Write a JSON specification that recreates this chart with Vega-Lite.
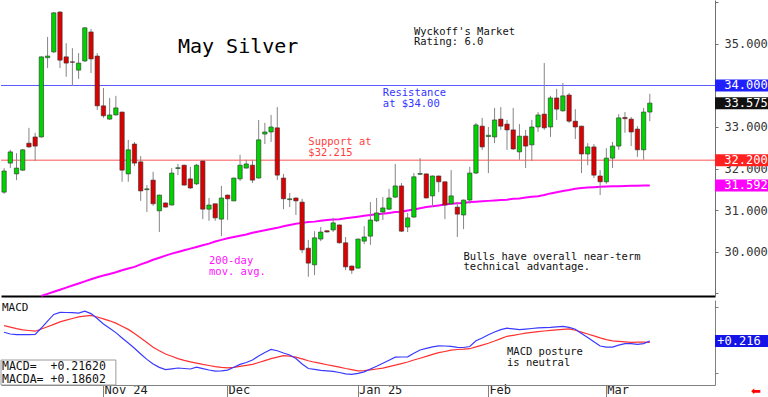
{
"$schema": "https://vega.github.io/schema/vega-lite/v6.json",
"padding": 0,
"background": "white",
"spacing": 0,
"config": {"view": {"stroke": null}, "font": "DejaVu Sans Mono", "concat": {"spacing": 0}},
"resolve": {"scale": {"x": "independent", "y": "independent", "color": "independent"}},
"datasets": {
"bars": [
{"d":"2024-10-10","o":31.43,"h":32.01,"l":31.39,"c":31.94,"ma":null,"m":0.414,"s":0.564},
{"d":"2024-10-11","o":32.13,"h":32.45,"l":32.01,"c":32.40,"ma":null,"m":0.375,"s":0.532},
{"d":"2024-10-14","o":31.87,"h":32.37,"l":31.72,"c":32.01,"ma":null,"m":0.359,"s":0.498},
{"d":"2024-10-15","o":31.96,"h":32.47,"l":31.94,"c":32.45,"ma":null,"m":0.359,"s":0.468},
{"d":"2024-10-16","o":32.61,"h":32.98,"l":32.50,"c":32.52,"ma":null,"m":0.359,"s":0.455},
{"d":"2024-10-17","o":32.76,"h":32.86,"l":32.18,"c":32.54,"ma":null,"m":0.364,"s":0.439},
{"d":"2024-10-18","o":32.76,"h":34.70,"l":32.74,"c":34.69,"ma":28.93,"m":0.511,"s":0.489},
{"d":"2024-10-21","o":34.67,"h":35.17,"l":34.42,"c":34.71,"ma":28.98,"m":0.670,"s":0.541},
{"d":"2024-10-22","o":34.81,"h":35.77,"l":34.78,"c":35.75,"ma":29.03,"m":0.820,"s":0.595},
{"d":"2024-10-23","o":35.77,"h":35.79,"l":34.42,"c":34.61,"ma":29.08,"m":0.868,"s":0.652},
{"d":"2024-10-24","o":34.69,"h":35.02,"l":34.21,"c":34.54,"ma":29.13,"m":0.864,"s":0.691},
{"d":"2024-10-25","o":34.57,"h":34.90,"l":33.99,"c":34.56,"ma":29.18,"m":0.859,"s":0.727},
{"d":"2024-10-28","o":34.37,"h":34.78,"l":34.16,"c":34.54,"ma":29.23,"m":0.852,"s":0.764},
{"d":"2024-10-29","o":34.59,"h":35.40,"l":34.57,"c":35.39,"ma":29.28,"m":0.895,"s":0.782},
{"d":"2024-10-30","o":35.29,"h":35.36,"l":34.30,"c":34.64,"ma":29.33,"m":0.839,"s":0.800},
{"d":"2024-10-31","o":34.71,"h":34.78,"l":33.41,"c":33.51,"ma":29.38,"m":0.727,"s":0.761},
{"d":"2024-11-01","o":33.51,"h":33.94,"l":33.22,"c":33.27,"ma":29.42,"m":0.602,"s":0.720},
{"d":"2024-11-04","o":33.19,"h":33.70,"l":33.17,"c":33.29,"ma":29.46,"m":0.507,"s":0.675},
{"d":"2024-11-05","o":33.29,"h":33.75,"l":33.28,"c":33.46,"ma":29.50,"m":0.407,"s":0.623},
{"d":"2024-11-06","o":33.36,"h":33.37,"l":31.68,"c":31.96,"ma":29.55,"m":0.286,"s":0.552},
{"d":"2024-11-07","o":31.87,"h":32.69,"l":31.68,"c":32.45,"ma":29.59,"m":0.170,"s":0.480},
{"d":"2024-11-08","o":32.59,"h":32.64,"l":32.06,"c":32.13,"ma":29.63,"m":0.050,"s":0.384},
{"d":"2024-11-11","o":32.16,"h":32.30,"l":31.22,"c":31.46,"ma":29.69,"m":-0.080,"s":0.286},
{"d":"2024-11-12","o":31.49,"h":31.60,"l":30.95,"c":31.51,"ma":29.74,"m":-0.202,"s":0.182},
{"d":"2024-11-13","o":31.72,"h":31.92,"l":31.10,"c":31.15,"ma":29.80,"m":-0.309,"s":0.075},
{"d":"2024-11-14","o":30.98,"h":31.37,"l":30.47,"c":31.36,"ma":29.85,"m":-0.384,"s":-0.007},
{"d":"2024-11-15","o":31.17,"h":31.18,"l":31.06,"c":31.07,"ma":29.90,"m":-0.434,"s":-0.080},
{"d":"2024-11-18","o":31.12,"h":32.01,"l":31.11,"c":31.89,"ma":29.95,"m":-0.416,"s":-0.130},
{"d":"2024-11-19","o":32.00,"h":32.11,"l":31.84,"c":32.02,"ma":29.99,"m":-0.398,"s":-0.184},
{"d":"2024-11-20","o":32.08,"h":32.09,"l":31.59,"c":31.60,"ma":30.03,"m":-0.409,"s":-0.225},
{"d":"2024-11-21","o":31.75,"h":32.04,"l":31.51,"c":31.53,"ma":30.07,"m":-0.420,"s":-0.257},
{"d":"2024-11-22","o":31.63,"h":32.11,"l":31.60,"c":32.08,"ma":30.11,"m":-0.380,"s":-0.286},
{"d":"2024-11-25","o":32.18,"h":32.19,"l":30.78,"c":31.02,"ma":30.15,"m":-0.411,"s":-0.316},
{"d":"2024-11-26","o":31.02,"h":31.29,"l":30.74,"c":31.12,"ma":30.19,"m":-0.443,"s":-0.341},
{"d":"2024-11-27","o":31.15,"h":31.15,"l":30.74,"c":30.81,"ma":30.24,"m":-0.470,"s":-0.366},
{"d":"2024-11-29","o":30.78,"h":31.58,"l":30.37,"c":31.29,"ma":30.28,"m":-0.461,"s":-0.382},
{"d":"2024-12-02","o":31.36,"h":31.37,"l":30.76,"c":31.27,"ma":30.32,"m":-0.445,"s":-0.393},
{"d":"2024-12-03","o":31.22,"h":31.78,"l":31.21,"c":31.77,"ma":30.35,"m":-0.382,"s":-0.384},
{"d":"2024-12-04","o":31.75,"h":32.33,"l":31.70,"c":32.08,"ma":30.38,"m":-0.316,"s":-0.361},
{"d":"2024-12-05","o":32.01,"h":32.21,"l":32.00,"c":32.11,"ma":30.41,"m":-0.273,"s":-0.339},
{"d":"2024-12-06","o":32.08,"h":32.21,"l":31.65,"c":31.72,"ma":30.45,"m":-0.216,"s":-0.314},
{"d":"2024-12-09","o":31.77,"h":33.17,"l":31.76,"c":32.69,"ma":30.48,"m":-0.123,"s":-0.273},
{"d":"2024-12-10","o":32.83,"h":33.10,"l":32.59,"c":32.88,"ma":30.51,"m":-0.045,"s":-0.230},
{"d":"2024-12-11","o":32.88,"h":33.29,"l":32.64,"c":33.00,"ma":30.54,"m":0.023,"s":-0.186},
{"d":"2024-12-12","o":32.98,"h":33.48,"l":31.72,"c":31.84,"ma":30.57,"m":-0.005,"s":-0.152},
{"d":"2024-12-13","o":31.77,"h":31.87,"l":31.02,"c":31.27,"ma":30.61,"m":-0.057,"s":-0.118},
{"d":"2024-12-16","o":31.25,"h":31.41,"l":31.07,"c":31.27,"ma":30.64,"m":-0.102,"s":-0.127},
{"d":"2024-12-17","o":31.29,"h":31.30,"l":30.88,"c":31.22,"ma":30.67,"m":-0.182,"s":-0.152},
{"d":"2024-12-18","o":31.19,"h":31.27,"l":29.96,"c":30.04,"ma":30.69,"m":-0.307,"s":-0.189},
{"d":"2024-12-19","o":30.08,"h":30.28,"l":29.39,"c":29.72,"ma":30.71,"m":-0.409,"s":-0.232},
{"d":"2024-12-20","o":29.68,"h":30.49,"l":29.43,"c":30.33,"ma":30.72,"m":-0.427,"s":-0.266},
{"d":"2024-12-23","o":30.30,"h":30.59,"l":30.25,"c":30.47,"ma":30.74,"m":-0.450,"s":-0.293},
{"d":"2024-12-24","o":30.50,"h":30.51,"l":30.46,"c":30.47,"ma":30.76,"m":-0.461,"s":-0.323},
{"d":"2024-12-26","o":30.52,"h":30.81,"l":30.47,"c":30.69,"ma":30.77,"m":-0.473,"s":-0.350},
{"d":"2024-12-27","o":30.64,"h":30.65,"l":30.19,"c":30.21,"ma":30.78,"m":-0.500,"s":-0.377},
{"d":"2024-12-30","o":30.21,"h":30.35,"l":29.55,"c":29.63,"ma":30.80,"m":-0.530,"s":-0.409},
{"d":"2024-12-31","o":29.65,"h":29.66,"l":29.46,"c":29.55,"ma":30.82,"m":-0.541,"s":-0.434},
{"d":"2025-01-02","o":29.60,"h":30.31,"l":29.59,"c":30.30,"ma":30.84,"m":-0.518,"s":-0.461},
{"d":"2025-01-03","o":30.25,"h":30.61,"l":30.18,"c":30.35,"ma":30.86,"m":-0.486,"s":-0.459},
{"d":"2025-01-06","o":30.37,"h":31.19,"l":30.16,"c":30.76,"ma":30.88,"m":-0.420,"s":-0.441},
{"d":"2025-01-07","o":30.74,"h":31.29,"l":30.71,"c":30.93,"ma":30.90,"m":-0.357,"s":-0.420},
{"d":"2025-01-08","o":30.95,"h":31.31,"l":30.76,"c":31.05,"ma":30.91,"m":-0.289,"s":-0.400},
{"d":"2025-01-09","o":31.02,"h":31.51,"l":31.00,"c":31.29,"ma":30.93,"m":-0.220,"s":-0.366},
{"d":"2025-01-10","o":31.31,"h":32.11,"l":31.29,"c":31.58,"ma":30.95,"m":-0.152,"s":-0.332},
{"d":"2025-01-13","o":31.58,"h":31.65,"l":30.47,"c":30.49,"ma":30.96,"m":-0.148,"s":-0.298},
{"d":"2025-01-14","o":30.59,"h":30.93,"l":30.47,"c":30.81,"ma":30.99,"m":-0.143,"s":-0.261},
{"d":"2025-01-15","o":30.83,"h":31.89,"l":30.81,"c":31.80,"ma":31.01,"m":-0.064,"s":-0.216},
{"d":"2025-01-16","o":31.86,"h":32.25,"l":31.84,"c":31.88,"ma":31.04,"m":0.011,"s":-0.175},
{"d":"2025-01-17","o":31.87,"h":31.88,"l":31.28,"c":31.29,"ma":31.07,"m":0.048,"s":-0.132},
{"d":"2025-01-21","o":31.34,"h":31.83,"l":31.07,"c":31.82,"ma":31.09,"m":0.084,"s":-0.089},
{"d":"2025-01-22","o":31.82,"h":31.83,"l":31.43,"c":31.68,"ma":31.11,"m":0.107,"s":-0.050},
{"d":"2025-01-23","o":31.68,"h":31.68,"l":30.78,"c":31.12,"ma":31.13,"m":0.102,"s":-0.023},
{"d":"2025-01-24","o":31.15,"h":31.96,"l":31.12,"c":31.34,"ma":31.15,"m":0.093,"s":0.007},
{"d":"2025-01-27","o":31.07,"h":31.19,"l":30.35,"c":30.90,"ma":31.16,"m":0.073,"s":0.023},
{"d":"2025-01-28","o":30.88,"h":31.25,"l":30.54,"c":31.24,"ma":31.17,"m":0.068,"s":0.030},
{"d":"2025-01-29","o":31.24,"h":32.04,"l":31.15,"c":31.89,"ma":31.19,"m":0.091,"s":0.041},
{"d":"2025-01-30","o":31.89,"h":33.10,"l":31.87,"c":33.05,"ma":31.20,"m":0.220,"s":0.082},
{"d":"2025-01-31","o":33.02,"h":33.22,"l":32.45,"c":32.52,"ma":31.21,"m":0.286,"s":0.123},
{"d":"2025-02-03","o":32.77,"h":33.00,"l":31.89,"c":32.80,"ma":31.22,"m":0.359,"s":0.166},
{"d":"2025-02-04","o":32.76,"h":33.46,"l":32.61,"c":33.17,"ma":31.23,"m":0.420,"s":0.216},
{"d":"2025-02-05","o":33.19,"h":33.48,"l":32.93,"c":33.02,"ma":31.24,"m":0.473,"s":0.270},
{"d":"2025-02-06","o":33.07,"h":33.17,"l":32.45,"c":32.93,"ma":31.25,"m":0.507,"s":0.323},
{"d":"2025-02-07","o":32.93,"h":33.46,"l":32.45,"c":32.47,"ma":31.27,"m":0.491,"s":0.345},
{"d":"2025-02-10","o":32.40,"h":33.07,"l":32.21,"c":32.78,"ma":31.28,"m":0.475,"s":0.370},
{"d":"2025-02-11","o":32.78,"h":32.93,"l":32.01,"c":32.54,"ma":31.30,"m":0.486,"s":0.393},
{"d":"2025-02-12","o":32.57,"h":33.17,"l":32.18,"c":33.00,"ma":31.32,"m":0.500,"s":0.411},
{"d":"2025-02-13","o":33.00,"h":33.36,"l":32.88,"c":33.29,"ma":31.33,"m":0.514,"s":0.427},
{"d":"2025-02-14","o":33.31,"h":34.54,"l":32.93,"c":32.98,"ma":31.36,"m":0.520,"s":0.443},
{"d":"2025-02-18","o":33.00,"h":33.75,"l":32.76,"c":33.70,"ma":31.40,"m":0.527,"s":0.457},
{"d":"2025-02-19","o":33.70,"h":33.92,"l":33.17,"c":33.43,"ma":31.43,"m":0.539,"s":0.470},
{"d":"2025-02-20","o":33.39,"h":34.06,"l":33.37,"c":33.75,"ma":31.46,"m":0.548,"s":0.482},
{"d":"2025-02-21","o":33.77,"h":33.82,"l":33.10,"c":33.14,"ma":31.48,"m":0.527,"s":0.493},
{"d":"2025-02-24","o":33.14,"h":33.43,"l":32.71,"c":33.00,"ma":31.51,"m":0.482,"s":0.461},
{"d":"2025-02-25","o":33.02,"h":33.03,"l":31.89,"c":32.35,"ma":31.53,"m":0.389,"s":0.418},
{"d":"2025-02-26","o":32.35,"h":32.61,"l":32.08,"c":32.52,"ma":31.54,"m":0.293,"s":0.375},
{"d":"2025-02-27","o":32.52,"h":32.59,"l":31.77,"c":31.84,"ma":31.55,"m":0.200,"s":0.332},
{"d":"2025-02-28","o":31.82,"h":31.96,"l":31.36,"c":31.68,"ma":31.56,"m":0.102,"s":0.286},
{"d":"2025-03-03","o":31.68,"h":32.49,"l":31.63,"c":32.25,"ma":31.565,"m":0.075,"s":0.248},
{"d":"2025-03-04","o":32.25,"h":32.64,"l":32.01,"c":32.54,"ma":31.57,"m":0.077,"s":0.218},
{"d":"2025-03-05","o":32.54,"h":33.31,"l":32.45,"c":33.22,"ma":31.575,"m":0.123,"s":0.207},
{"d":"2025-03-06","o":33.23,"h":33.36,"l":32.86,"c":33.20,"ma":31.578,"m":0.155,"s":0.195},
{"d":"2025-03-07","o":33.19,"h":33.24,"l":32.54,"c":32.88,"ma":31.582,"m":0.155,"s":0.186},
{"d":"2025-03-10","o":32.95,"h":33.02,"l":32.28,"c":32.45,"ma":31.585,"m":0.139,"s":0.189},
{"d":"2025-03-11","o":32.45,"h":33.46,"l":32.21,"c":33.36,"ma":31.589,"m":0.157,"s":0.191},
{"d":"2025-03-12","o":33.36,"h":33.80,"l":33.14,"c":33.575,"ma":31.592,"m":0.2162,"s":0.18602}
],
"lv": [
{"v":34.0,"t":"34.000","k":"res"},
{"v":33.575,"t":"33.575","k":"last"},
{"v":32.2,"t":"32.200","k":"sup"},
{"v":31.592,"t":"31.592","k":"ma"}
],
"mlv": [{"v":0.2162,"t":"+0.216"}],
"mbox": [{"d0":"2024-10-10","d1":"2024-11-05","v0":-0.216,"v1":-0.784}],
"notes": [
{"d":"2024-11-19","v":34.92,"t":"May Silver","g":"title"},
{"d":"2025-01-15","v":35.42,"t":["Wyckoff's Market","Rating: 6.0"],"g":"black"},
{"d":"2025-01-08","v":33.93,"t":["Resistance","at $34.00"],"g":"blue"},
{"d":"2024-12-19","v":32.75,"t":["Support at","$32.215"],"g":"red"},
{"d":"2024-11-26","v":29.88,"t":["200-day","mov. avg."],"g":"magenta"},
{"d":"2025-01-28","v":30.0,"t":["Bulls have overall near-term","technical advantage."],"g":"black"}
],
"mnotes": [
{"d":"2024-10-10","v":0.966,"t":"MACD","g":"lab"},
{"d":"2024-10-10","v":-0.234,"t":["MACD=\u00a0\u00a0+0.21620","MACDA=\u00a0+0.18602"],"g":"box"},
{"d":"2025-02-06","v":0.07,"t":["MACD posture","is neutral"],"g":"post"}
]
},
"vconcat": [
{
"spacing": 0,
"bounds": "flush",
"resolve": {"scale": {"x": "independent", "y": "independent", "color": "independent"}},
"hconcat": [
{
"width": 714, "height": 296,
"layer": [
{"data": {"name": "lv"}, "transform": [{"filter": "datum.k == 'res'"}],
 "mark": {"type": "rule", "color": "#5a5aff", "strokeWidth": 1},
 "encoding": {"y": {"field": "v", "type": "quantitative", "scale": {"domain": [28.928, 36.06], "nice": false, "zero": false}, "axis": null}}},
{"data": {"name": "lv"}, "transform": [{"filter": "datum.k == 'sup'"}],
 "mark": {"type": "rule", "color": "#ff8c8c", "strokeWidth": 1.5},
 "encoding": {"y": {"field": "v", "type": "quantitative", "axis": null}}},
{"data": {"name": "bars"},
 "mark": {"type": "line", "color": "#ff00ff", "strokeWidth": 2},
 "encoding": {
  "x": {"field": "d", "type": "ordinal",
   "scale": {"type": "band", "paddingInner": 0, "paddingOuter": 0, "domain": ["2024-10-10","2024-10-11","2024-10-14","2024-10-15","2024-10-16","2024-10-17","2024-10-18","2024-10-21","2024-10-22","2024-10-23","2024-10-24","2024-10-25","2024-10-28","2024-10-29","2024-10-30","2024-10-31","2024-11-01","2024-11-04","2024-11-05","2024-11-06","2024-11-07","2024-11-08","2024-11-11","2024-11-12","2024-11-13","2024-11-14","2024-11-15","2024-11-18","2024-11-19","2024-11-20","2024-11-21","2024-11-22","2024-11-25","2024-11-26","2024-11-27","2024-11-29","2024-12-02","2024-12-03","2024-12-04","2024-12-05","2024-12-06","2024-12-09","2024-12-10","2024-12-11","2024-12-12","2024-12-13","2024-12-16","2024-12-17","2024-12-18","2024-12-19","2024-12-20","2024-12-23","2024-12-24","2024-12-26","2024-12-27","2024-12-30","2024-12-31","2025-01-02","2025-01-03","2025-01-06","2025-01-07","2025-01-08","2025-01-09","2025-01-10","2025-01-13","2025-01-14","2025-01-15","2025-01-16","2025-01-17","2025-01-21","2025-01-22","2025-01-23","2025-01-24","2025-01-27","2025-01-28","2025-01-29","2025-01-30","2025-01-31","2025-02-03","2025-02-04","2025-02-05","2025-02-06","2025-02-07","2025-02-10","2025-02-11","2025-02-12","2025-02-13","2025-02-14","2025-02-18","2025-02-19","2025-02-20","2025-02-21","2025-02-24","2025-02-25","2025-02-26","2025-02-27","2025-02-28","2025-03-03","2025-03-04","2025-03-05","2025-03-06","2025-03-07","2025-03-10","2025-03-11","2025-03-12","2025-03-13","2025-03-14","2025-03-17","2025-03-18","2025-03-19","2025-03-20","2025-03-21","2025-03-24","2025-03-25","2025-03-26"]},
   "axis": {"labels": false, "ticks": false, "domainColor": "#000000", "domainWidth": 2, "title": null, "grid": false}},
  "y": {"field": "ma", "type": "quantitative", "axis": null}}},
{"data": {"name": "bars"},
 "mark": {"type": "rule", "color": "#858585", "strokeWidth": 1},
 "encoding": {"x": {"field": "d", "type": "ordinal"}, "y": {"field": "l", "type": "quantitative", "axis": null}, "y2": {"field": "h"}}},
{"data": {"name": "bars"},
 "mark": {"type": "bar", "width": {"band": 0.7}, "stroke": "#303030", "strokeWidth": 0.6},
 "encoding": {"x": {"field": "d", "type": "ordinal"}, "y": {"field": "o", "type": "quantitative", "axis": null}, "y2": {"field": "c"},
  "color": {"condition": {"test": "datum.c >= datum.o", "value": "#00d400"}, "value": "#dd0000"}}},
{"data": {"name": "notes"}, "transform": [{"filter": "datum.g == 'title'"}],
 "mark": {"type": "text", "align": "left", "baseline": "middle", "fontSize": 20, "font": "DejaVu Sans Mono", "color": "#000000"},
 "encoding": {"x": {"field": "d", "type": "ordinal"}, "y": {"field": "v", "type": "quantitative", "axis": null}, "text": {"field": "t"}}},
{"data": {"name": "notes"}, "transform": [{"filter": "datum.g != 'title'"}],
 "mark": {"type": "text", "align": "left", "baseline": "top", "fontSize": 10.5, "lineHeight": 10.5, "font": "DejaVu Sans Mono"},
 "encoding": {"x": {"field": "d", "type": "ordinal"}, "y": {"field": "v", "type": "quantitative", "axis": null}, "text": {"field": "t"},
  "color": {"condition": [{"test": "datum.g == 'blue'", "value": "#3535ff"}, {"test": "datum.g == 'red'", "value": "#ff4040"}, {"test": "datum.g == 'magenta'", "value": "#ff10ff"}], "value": "#111111"}}}
]
},
{
"width": 54, "height": 296,
"data": {"name": "lv"},
"layer": [
{"mark": {"type": "rect", "yOffset": -6, "y2Offset": 6},
 "encoding": {
  "y": {"field": "v", "type": "quantitative", "scale": {"domain": [28.928, 36.06], "nice": false, "zero": false},
   "axis": {"orient": "right", "offset": -54, "values": [29,30,31,32,33,34,35,36], "labelExpr": "datum.value >= 30 && datum.value <= 35 ? format(datum.value, '.3f') : ''", "title": null, "grid": false, "domainColor": "#707070", "tickColor": "#707070", "tickSize": 3, "labelPadding": 6, "labelFont": "DejaVu Sans Mono", "labelFontSize": 12, "labelColor": "#333333", "labelBaseline": "middle"}},
  "y2": {"field": "v"},
  "color": {"condition": [{"test": "datum.k == 'res'", "value": "#2020ff"}, {"test": "datum.k == 'last'", "value": "#111111"}, {"test": "datum.k == 'sup'", "value": "#ff2020"}], "value": "#ff00ff"}}},
{"mark": {"type": "text", "color": "#ffffff", "fontSize": 12, "font": "DejaVu Sans Mono", "align": "center", "baseline": "middle", "dx": 4},
 "encoding": {"y": {"field": "v", "type": "quantitative"}, "text": {"field": "t"}}}
]
}
]
},
{
"spacing": 0,
"bounds": "flush",
"resolve": {"scale": {"x": "independent", "y": "independent", "color": "independent"}},
"hconcat": [
{
"width": 714, "height": 85,
"layer": [
{"mark": {"type": "rule", "stroke": "#ffb8b8", "strokeWidth": 1},
 "encoding": {"y": {"datum": 0.2, "type": "quantitative", "scale": {"domain": [-0.784, 1.148], "nice": false, "zero": false}, "axis": null}}},
{"mark": {"type": "rule", "stroke": "#bcbcff", "strokeWidth": 1},
 "encoding": {"y": {"datum": -0.2, "type": "quantitative", "axis": null}}},
{"data": {"name": "bars"},
 "mark": {"type": "line", "color": "#ff3030", "strokeWidth": 1.2},
 "encoding": {
  "x": {"field": "d", "type": "ordinal",
   "scale": {"type": "band", "paddingInner": 0, "paddingOuter": 0, "domain": ["2024-10-10","2024-10-11","2024-10-14","2024-10-15","2024-10-16","2024-10-17","2024-10-18","2024-10-21","2024-10-22","2024-10-23","2024-10-24","2024-10-25","2024-10-28","2024-10-29","2024-10-30","2024-10-31","2024-11-01","2024-11-04","2024-11-05","2024-11-06","2024-11-07","2024-11-08","2024-11-11","2024-11-12","2024-11-13","2024-11-14","2024-11-15","2024-11-18","2024-11-19","2024-11-20","2024-11-21","2024-11-22","2024-11-25","2024-11-26","2024-11-27","2024-11-29","2024-12-02","2024-12-03","2024-12-04","2024-12-05","2024-12-06","2024-12-09","2024-12-10","2024-12-11","2024-12-12","2024-12-13","2024-12-16","2024-12-17","2024-12-18","2024-12-19","2024-12-20","2024-12-23","2024-12-24","2024-12-26","2024-12-27","2024-12-30","2024-12-31","2025-01-02","2025-01-03","2025-01-06","2025-01-07","2025-01-08","2025-01-09","2025-01-10","2025-01-13","2025-01-14","2025-01-15","2025-01-16","2025-01-17","2025-01-21","2025-01-22","2025-01-23","2025-01-24","2025-01-27","2025-01-28","2025-01-29","2025-01-30","2025-01-31","2025-02-03","2025-02-04","2025-02-05","2025-02-06","2025-02-07","2025-02-10","2025-02-11","2025-02-12","2025-02-13","2025-02-14","2025-02-18","2025-02-19","2025-02-20","2025-02-21","2025-02-24","2025-02-25","2025-02-26","2025-02-27","2025-02-28","2025-03-03","2025-03-04","2025-03-05","2025-03-06","2025-03-07","2025-03-10","2025-03-11","2025-03-12","2025-03-13","2025-03-14","2025-03-17","2025-03-18","2025-03-19","2025-03-20","2025-03-21","2025-03-24","2025-03-25","2025-03-26"]},
   "axis": {"values": ["2024-11-01","2024-12-02","2025-01-02","2025-02-03","2025-03-03"],
    "labelExpr": "datum.value == '2024-11-01' ? 'Nov 24' : datum.value == '2024-12-02' ? 'Dec' : datum.value == '2025-01-02' ? 'Jan 25' : datum.value == '2025-02-03' ? 'Feb' : 'Mar'",
    "title": null, "grid": false, "domainColor": "#808080", "tickColor": "#808080", "tickSize": 15, "labelAngle": 0, "labelAlign": "left", "labelBaseline": "middle", "labelPadding": -11, "labelOffset": 1, "labelFont": "DejaVu Sans Mono", "labelFontSize": 12, "labelColor": "#222222", "labelFlush": false, "labelOverlap": false}},
  "y": {"field": "s", "type": "quantitative", "axis": null}}},
{"data": {"name": "bars"},
 "mark": {"type": "line", "color": "#3a3aff", "strokeWidth": 1.2},
 "encoding": {"x": {"field": "d", "type": "ordinal"}, "y": {"field": "m", "type": "quantitative", "axis": null}}},
{"data": {"name": "mbox"},
 "mark": {"type": "rect", "fill": "#ffffff", "stroke": "#9a9a9a", "strokeWidth": 1},
 "encoding": {"x": {"field": "d0", "type": "ordinal", "bandPosition": 0}, "x2": {"field": "d1"},
  "y": {"field": "v0", "type": "quantitative", "axis": null}, "y2": {"field": "v1"}}},
{"data": {"name": "mnotes"}, "transform": [{"filter": "datum.g == 'lab'"}],
 "mark": {"type": "text", "align": "left", "baseline": "middle", "fontSize": 11, "font": "DejaVu Sans Mono", "color": "#111111", "dx": 1},
 "encoding": {"x": {"field": "d", "type": "ordinal", "bandPosition": 0}, "y": {"field": "v", "type": "quantitative", "axis": null}, "text": {"field": "t"}}},
{"data": {"name": "mnotes"}, "transform": [{"filter": "datum.g == 'box'"}],
 "mark": {"type": "text", "align": "left", "baseline": "top", "fontSize": 11.5, "lineHeight": 13, "font": "DejaVu Sans Mono", "color": "#111111", "dx": 1},
 "encoding": {"x": {"field": "d", "type": "ordinal", "bandPosition": 0}, "y": {"field": "v", "type": "quantitative", "axis": null}, "text": {"field": "t"}}},
{"data": {"name": "mnotes"}, "transform": [{"filter": "datum.g == 'post'"}],
 "mark": {"type": "text", "align": "left", "baseline": "top", "fontSize": 10.5, "lineHeight": 10.5, "font": "DejaVu Sans Mono", "color": "#111111"},
 "encoding": {"x": {"field": "d", "type": "ordinal"}, "y": {"field": "v", "type": "quantitative", "axis": null}, "text": {"field": "t"}}}
]
},
{
"width": 54, "height": 85,
"layer": [
{"data": {"name": "mlv"},
 "mark": {"type": "rect", "yOffset": -6, "y2Offset": 6, "color": "#1414e6"},
 "encoding": {
  "y": {"field": "v", "type": "quantitative", "scale": {"domain": [-0.784, 1.148], "nice": false, "zero": false},
   "axis": {"orient": "right", "offset": -54, "values": [-0.5, 0, 0.5, 1], "labelExpr": "datum.value == 0 ? '0.000' : ''", "title": null, "grid": false, "domainColor": "#808080", "tickColor": "#808080", "tickSize": 3, "labelPadding": 6, "labelFont": "DejaVu Sans Mono", "labelFontSize": 12, "labelColor": "#333333", "labelBaseline": "middle"}},
  "y2": {"field": "v"}}},
{"data": {"name": "mlv"},
 "mark": {"type": "text", "color": "#ffffff", "fontSize": 12, "font": "DejaVu Sans Mono", "align": "center", "baseline": "middle", "dx": -3},
 "encoding": {"y": {"field": "v", "type": "quantitative"}, "text": {"field": "t"}}},
{"data": {"name": "mlv"},
 "mark": {"type": "text", "color": "#ff0000", "fontSize": 12, "font": "DejaVu Sans", "align": "center", "baseline": "middle", "dx": 14, "clip": false},
 "encoding": {"y": {"datum": -0.92, "type": "quantitative"}, "text": {"value": "⬅"}}}
]
}
]
}
]
}
